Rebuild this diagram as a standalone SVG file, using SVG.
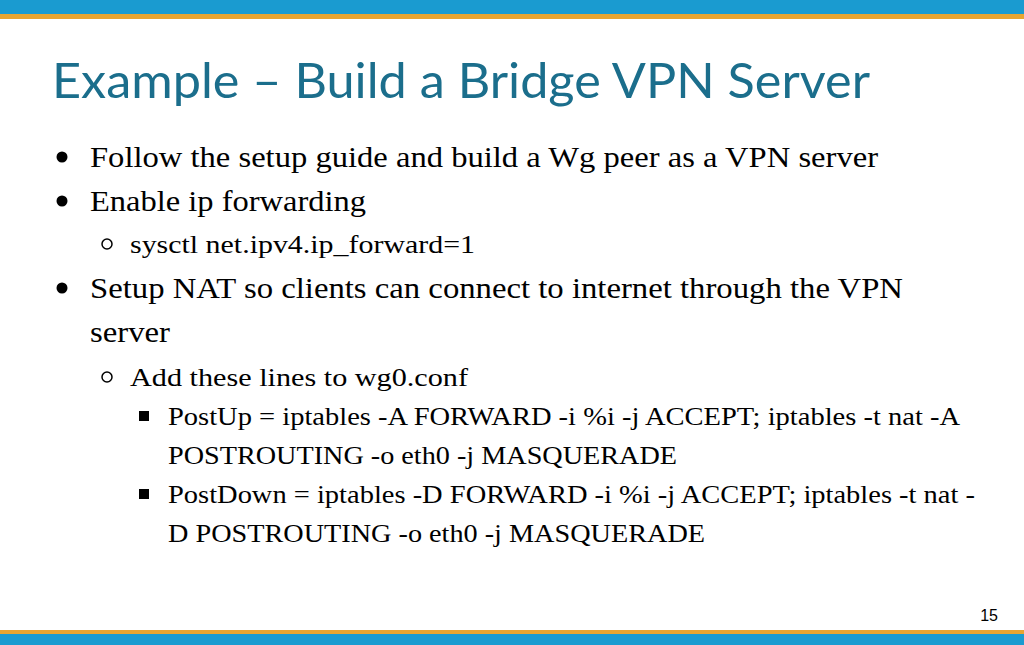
<svg xmlns="http://www.w3.org/2000/svg" width="1024" height="645" viewBox="0 0 1024 645">
<style>
.b{font-family:"Liberation Serif",serif;fill:#000}
.l1{font-size:30px}.l2{font-size:25px}.l3{font-size:25px}
</style>
<rect width="1024" height="645" fill="#fff"/>
<rect width="1024" height="15" fill="#1a9bd0"/>
<rect y="14" width="1024" height="5" fill="#e8a530"/>
<rect y="630" width="1024" height="4" fill="#e8a530"/>
<rect y="634" width="1024" height="11" fill="#1a9bd0"/>
<text x="52" y="98" font-family="Lato,sans-serif" font-size="48" fill="#1b6e8c" textLength="818" lengthAdjust="spacingAndGlyphs">Example – Build a Bridge VPN Server</text>
<g class="b" lengthAdjust="spacingAndGlyphs">
<circle cx="62" cy="157" r="5.5"/>
<text class="l1" x="90" y="167" textLength="788" lengthAdjust="spacingAndGlyphs">Follow the setup guide and build a Wg peer as a VPN server</text>
<circle cx="62" cy="201" r="5.5"/>
<text class="l1" x="90" y="211" textLength="276" lengthAdjust="spacingAndGlyphs">Enable ip forwarding</text>
<circle cx="107" cy="244" r="5" fill="none" stroke="#000" stroke-width="1.5"/>
<text class="l2" x="130" y="253" textLength="345" lengthAdjust="spacingAndGlyphs">sysctl net.ipv4.ip_forward=1</text>
<circle cx="62" cy="288" r="5.5"/>
<text class="l1" x="90" y="298" textLength="813" lengthAdjust="spacingAndGlyphs">Setup NAT so clients can connect to internet through the VPN</text>
<text class="l1" x="90" y="342" textLength="80" lengthAdjust="spacingAndGlyphs">server</text>
<circle cx="107" cy="377" r="5" fill="none" stroke="#000" stroke-width="1.5"/>
<text class="l2" x="130" y="386" textLength="338" lengthAdjust="spacingAndGlyphs">Add these lines to wg0.conf</text>
<rect x="139" y="411" width="10" height="10"/>
<text class="l3" x="168" y="425" textLength="792" lengthAdjust="spacingAndGlyphs">PostUp = iptables -A FORWARD -i %i -j ACCEPT; iptables -t nat -A</text>
<text class="l3" x="168" y="464" textLength="509" lengthAdjust="spacingAndGlyphs">POSTROUTING -o eth0 -j MASQUERADE</text>
<rect x="139" y="489" width="10" height="10"/>
<text class="l3" x="168" y="503" textLength="807" lengthAdjust="spacingAndGlyphs">PostDown = iptables -D FORWARD -i %i -j ACCEPT; iptables -t nat -</text>
<text class="l3" x="168" y="542" textLength="537" lengthAdjust="spacingAndGlyphs">D POSTROUTING -o eth0 -j MASQUERADE</text>
</g>
<text x="998" y="621" font-family="Liberation Sans,sans-serif" font-size="16" text-anchor="end">15</text>
</svg>
